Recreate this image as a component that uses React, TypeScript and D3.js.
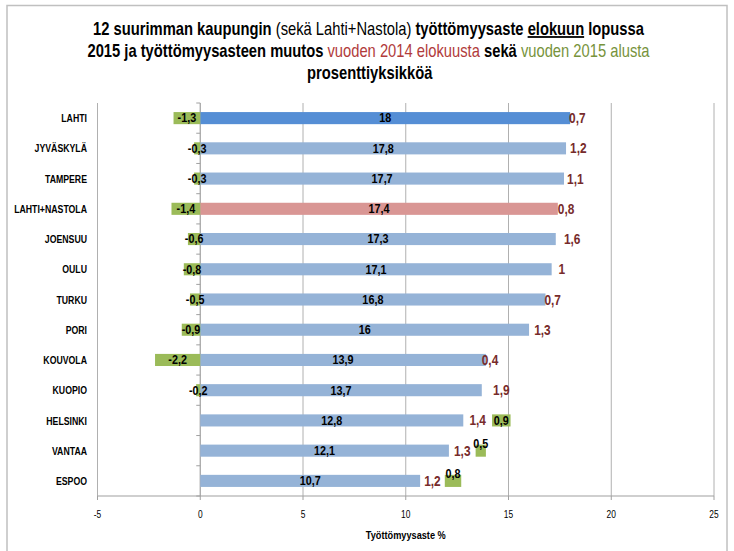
import { useEffect, type ReactNode } from "react"
import * as d3 from "d3"

// kaupungit, ylhäältä alas
const cities = [
  "LAHTI",
  "JYVÄSKYLÄ",
  "TAMPERE",
  "LAHTI+NASTOLA",
  "JOENSUU",
  "OULU",
  "TURKU",
  "PORI",
  "KOUVOLA",
  "KUOPIO",
  "HELSINKI",
  "VANTAA",
  "ESPOO",
]

// työttömyysaste elokuun lopussa 2015 (%)
const rate = [18, 17.8, 17.7, 17.4, 17.3, 17.1, 16.8, 16, 13.9, 13.7, 12.8, 12.1, 10.7]
// muutos vuoden 2014 elokuusta (%-yks.)
const changeFromAug2014 = [0.7, 1.2, 1.1, 0.8, 1.6, 1, 0.7, 1.3, 0.4, 1.9, 1.4, 1.3, 1.2]
// muutos vuoden 2015 alusta (%-yks.)
const changeFromJan2015 = [-1.3, -0.3, -0.3, -1.4, -0.6, -0.8, -0.5, -0.9, -2.2, -0.2, 0.9, 0.5, 0.8]

const xTicks = [-5, 0, 5, 10, 15, 20, 25]

const width = 734
const height = 551
const margin = { top: 103, right: 20, bottom: 55, left: 97.5 }

const sans = "'Liberation Sans', Arial, sans-serif"

const fmt = (v: number) => String(v).replace(".", ",")

// condensed text: Liberation Sans squeezed horizontally (Arial Narrow look)
function NText(props: {
  x: number
  y: number
  size: number
  anchor?: "start" | "middle" | "end"
  bold?: boolean
  fill?: string
  sx?: number
  dy?: string
  children: ReactNode
}) {
  const { x, y, size, anchor = "middle", bold = false, fill = "#000", sx = 0.8, dy, children } = props
  return (
    <g transform={`translate(${x},${y}) scale(${sx},1)`}>
      <text
        textAnchor={anchor}
        dy={dy}
        fontFamily={sans}
        fontSize={size}
        fontWeight={bold ? "bold" : "normal"}
        fill={fill}
      >
        {children}
      </text>
    </g>
  )
}

export default function App() {
  useEffect(() => {
    document.body.style.margin = "0"
  }, [])

  const rows = cities.map((city, i) => ({
    city,
    rate: rate[i],
    aug: changeFromAug2014[i],
    jan: changeFromJan2015[i],
  }))

  const series = d3
    .stack<any>()
    .keys(["rate", "aug", "jan"])
    .offset(d3.stackOffsetDiverging)(rows)

  const x = d3.scaleLinear().domain([-5, 25]).range([margin.left, 714])
  const y = d3
    .scaleBand()
    .domain(cities)
    .range([margin.top, 496])
    .paddingInner(0.6)
    .paddingOuter(0.3)

  const plotTop = margin.top
  const plotBottom = 496
  const step = y.step()
  const bw = y.bandwidth()

  const rateFill = (city: string) => {
    if (city === "LAHTI") return "#558ed5"
    if (city === "LAHTI+NASTOLA") return "#d99694"
    return "#95b3d7"
  }

  return (
    <div style={{ position: "absolute", left: 0, top: 0 }}>
      <svg width={width} height={height} style={{ display: "block", background: "#fff" }}>
        {/* chart border */}
        <rect x={7} y={5.5} width={720} height={600} fill="none" stroke="#c0c0c0" strokeWidth={1.5} />

        {/* title */}
        <g transform="translate(368.5,0) scale(0.82,1)" fontFamily={sans} fontSize={18} textAnchor="middle" fill="#000">
          <text x={0} y={35}>
            <tspan fontWeight="bold">12 suurimman kaupungin </tspan>
            <tspan>(sekä Lahti+Nastola)</tspan>
            <tspan fontWeight="bold"> työttömyysaste </tspan>
            <tspan fontWeight="bold" style={{ textDecoration: "underline" }}>elokuun</tspan>
            <tspan fontWeight="bold"> lopussa</tspan>
          </text>
          <text x={0} y={57}>
            <tspan fontWeight="bold">2015 ja työttömyysasteen muutos </tspan>
            <tspan fill="#b13b3b">vuoden 2014 elokuusta</tspan>
            <tspan fontWeight="bold"> sekä </tspan>
            <tspan fill="#77933c">vuoden 2015 alusta</tspan>
          </text>
          <text x={1.5} y={79} fontWeight="bold">
            prosenttiyksikköä
          </text>
        </g>

        {/* vertical gridlines */}
        {xTicks
          .filter((t) => t !== 0)
          .map((t) => (
            <line key={t} x1={x(t)} x2={x(t)} y1={plotTop} y2={plotBottom} stroke="#b0b0b0" strokeWidth={1} />
          ))}

        {/* x axis */}
        <line x1={x(-5)} x2={x(25)} y1={plotBottom} y2={plotBottom} stroke="#a0a0a0" strokeWidth={1.2} />
        {xTicks.map((t) => (
          <g key={t}>
            <line x1={x(t)} x2={x(t)} y1={plotBottom} y2={plotBottom + 4} stroke="#a0a0a0" />
            <NText x={x(t)} y={518} size={10.5}>
              {t}
            </NText>
          </g>
        ))}
        <NText x={(x(-5) + x(25)) / 2} y={539} size={11.5} bold>
          Työttömyysaste %
        </NText>

        {/* category axis at 0 */}
        <line x1={x(0)} x2={x(0)} y1={plotTop} y2={plotBottom} stroke="#a0a0a0" strokeWidth={1.2} />
        {d3.range(cities.length + 1).map((i) => (
          <line
            key={i}
            x1={x(0) - 4}
            x2={x(0)}
            y1={plotTop + i * step}
            y2={plotTop + i * step}
            stroke="#a0a0a0"
          />
        ))}

        {/* category labels */}
        {cities.map((c) => (
          <NText key={c} x={87} y={(y(c) ?? 0) + bw / 2} dy="0.36em" anchor="end" size={11.5} bold sx={0.76}>
            {c}
          </NText>
        ))}

        {/* bars */}
        {series.map((s) => (
          <g key={s.key}>
            {s.map((d, i) => {
              const city = cities[i]
              const x0 = x(Math.min(d[0], d[1]))
              const x1 = x(Math.max(d[0], d[1]))
              const yy = y(city) ?? 0
              const fill = s.key === "rate" ? rateFill(city) : s.key === "jan" ? "#9bbb59" : "none"
              return <rect key={city} x={x0} y={yy} width={x1 - x0} height={bw} fill={fill} />
            })}
          </g>
        ))}

        {/* labels */}
        {series.map((s) => (
          <g key={s.key + "-lab"}>
            {s.map((d, i) => {
              const city = cities[i]
              const value = d.data[s.key] as number
              const cx = x((d[0] + d[1]) / 2)
              const pxw = Math.abs(x(d[1]) - x(d[0]))
              let cy = (y(city) ?? 0) + bw / 2
              if (s.key === "jan" && value > 0 && pxw < 17) cy -= 7
              if (s.key === "aug") {
                return (
                  <NText key={city} x={cx} y={cy} dy="0.36em" size={14} bold fill="#772b2b" sx={0.85}>
                    {fmt(value)}
                  </NText>
                )
              }
              return (
                <NText key={city} x={cx} y={cy} dy="0.36em" size={12} bold sx={0.9}>
                  {fmt(value)}
                </NText>
              )
            })}
          </g>
        ))}
      </svg>
    </div>
  )
}
